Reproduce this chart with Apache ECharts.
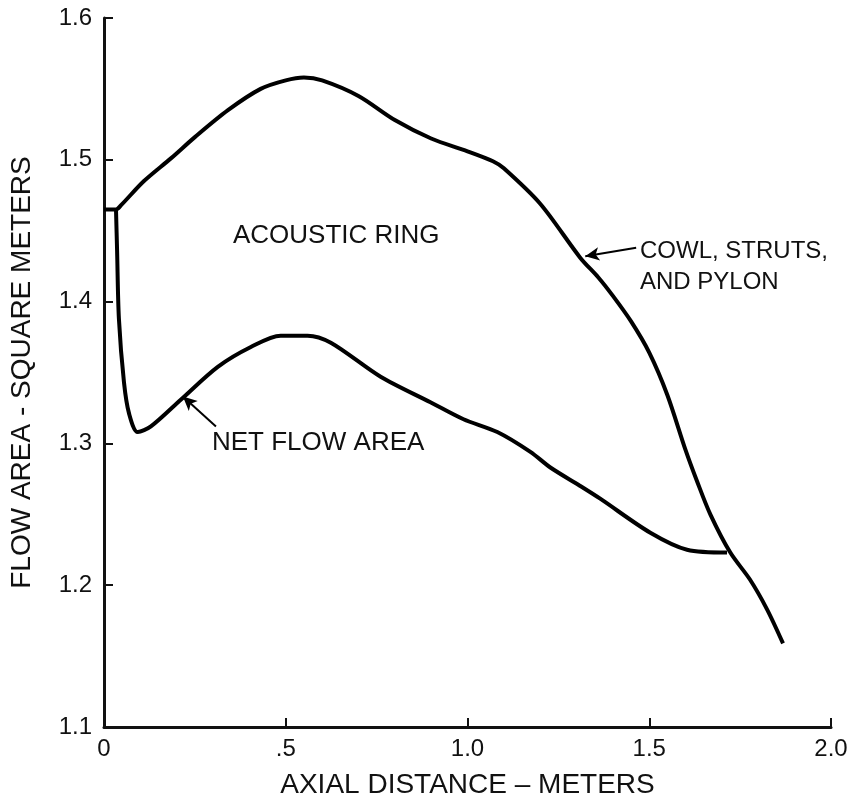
<!DOCTYPE html>
<html>
<head>
<meta charset="utf-8">
<script src="https://cdn.jsdelivr.net/npm/echarts@6/dist/echarts.min.js"></script>
<style>
html,body{margin:0;padding:0;background:#fff;}
#chart{width:857px;height:804px;}
</style>
</head>
<body>
<div id="chart"></div>
<script>
// Tick labels
var xTickValues = [0, 0.5, 1.0, 1.5, 2.0];
var xTickLabels = ['0', '.5', '1.0', '1.5', '2.0'];
var yTickLabels = ['1.1', '1.2', '1.3', '1.4', '1.5', '1.6'];

// Cowl, struts, and pylon curve (upper)
var cowlX = [0, 0.033, 0.047, 0.11, 0.184, 0.25, 0.341, 0.431, 0.5, 0.55, 0.6, 0.7, 0.8, 0.9, 1.0, 1.07, 1.1, 1.2, 1.31, 1.36, 1.4, 1.45, 1.5, 1.55, 1.599, 1.632, 1.668, 1.723, 1.777, 1.824, 1.868];
var cowlY = [1.465, 1.465, 1.468, 1.485, 1.501, 1.516, 1.535, 1.550, 1.556, 1.558, 1.556, 1.545, 1.528, 1.515, 1.506, 1.499, 1.494, 1.469, 1.431, 1.417, 1.404, 1.386, 1.364, 1.334, 1.296, 1.273, 1.250, 1.223, 1.204, 1.183, 1.159];

// Net flow area curve (lower)
var netX = [0.033, 0.036, 0.041, 0.055, 0.069, 0.093, 0.129, 0.212, 0.313, 0.404, 0.486, 0.56, 0.624, 0.761, 0.898, 0.989, 1.082, 1.173, 1.228, 1.31, 1.365, 1.503, 1.604, 1.714];
var netY = [1.465, 1.436, 1.388, 1.343, 1.321, 1.308, 1.312, 1.331, 1.354, 1.368, 1.376, 1.376, 1.371, 1.347, 1.329, 1.317, 1.308, 1.294, 1.283, 1.270, 1.261, 1.237, 1.225, 1.223];

// Annotation arrows (tail -> tip) in data units
var cowlArrow = [[1.464, 1.438], [1.324, 1.432]];
var netArrow = [[0.308, 1.312], [0.217, 1.333]];

function zip(xs, ys) { return xs.map(function (x, i) { return [x, ys[i]]; }); }

var FONT = '"Liberation Sans", Arial, Helvetica, sans-serif';
var chart = echarts.init(document.getElementById('chart'));

chart.setOption({
  backgroundColor: '#ffffff',
  animation: false,
  grid: { left: 103, right: 26, top: 18, bottom: 75, containLabel: false },
  xAxis: {
    type: 'value', min: 0, max: 2.0, interval: 0.5,
    name: 'AXIAL DISTANCE – METERS', nameLocation: 'middle', nameGap: 44,
    nameTextStyle: { fontFamily: FONT, fontSize: 28, color: '#111' },
    axisLine: { show: true, lineStyle: { color: '#111', width: 3 } },
    axisTick: { show: true, inside: true, length: 9, lineStyle: { color: '#111', width: 2 } },
    splitLine: { show: false },
    axisLabel: {
      fontFamily: FONT, fontSize: 24, color: '#111', margin: 10,
      formatter: function (v) { var i = xTickValues.indexOf(+v.toFixed(1)); return i >= 0 ? xTickLabels[i] : ''; }
    }
  },
  yAxis: {
    type: 'value', min: 1.1, max: 1.6, interval: 0.1,
    name: 'FLOW AREA - SQUARE METERS', nameLocation: 'middle', nameGap: 68, nameRotate: 90,
    nameTextStyle: { fontFamily: FONT, fontSize: 28, color: '#111' },
    axisLine: { show: true, lineStyle: { color: '#111', width: 3 } },
    axisTick: { show: true, inside: true, length: 9, lineStyle: { color: '#111', width: 2 } },
    splitLine: { show: false },
    axisLabel: {
      fontFamily: FONT, fontSize: 24, color: '#111', margin: 12,
      formatter: function (v) { var i = Math.round((v - 1.1) * 10); return yTickLabels[i] || ''; }
    }
  },
  series: [
    {
      type: 'line', name: 'COWL, STRUTS, AND PYLON', data: zip(cowlX, cowlY),
      showSymbol: false, smooth: 0.3,
      lineStyle: { color: '#000', width: 4 },
      markLine: {
        silent: true, symbol: ['none', 'arrow'], symbolSize: [10, 14],
        lineStyle: { color: '#000', width: 2, type: 'solid' }, label: { show: false },
        data: [[{ coord: cowlArrow[0] }, { coord: cowlArrow[1] }]]
      }
    },
    {
      type: 'line', name: 'NET FLOW AREA', data: zip(netX, netY),
      showSymbol: false, smooth: 0.3,
      lineStyle: { color: '#000', width: 4 },
      markLine: {
        silent: true, symbol: ['none', 'arrow'], symbolSize: [10, 14],
        lineStyle: { color: '#000', width: 2, type: 'solid' }, label: { show: false },
        data: [[{ coord: netArrow[0] }, { coord: netArrow[1] }]]
      }
    }
  ],
  graphic: [
    { type: 'text', left: 233, top: 223, style: { text: 'ACOUSTIC RING', font: '26px ' + FONT, fill: '#111' } },
    { type: 'text', left: 212, top: 430, style: { text: 'NET FLOW AREA', font: '26px ' + FONT, fill: '#111' } },
    { type: 'text', left: 640, top: 236, style: { text: 'COWL, STRUTS,\nAND PYLON', font: '24px ' + FONT, fill: '#111', lineHeight: 31 } }
  ]
});
</script>
</body>
</html>
